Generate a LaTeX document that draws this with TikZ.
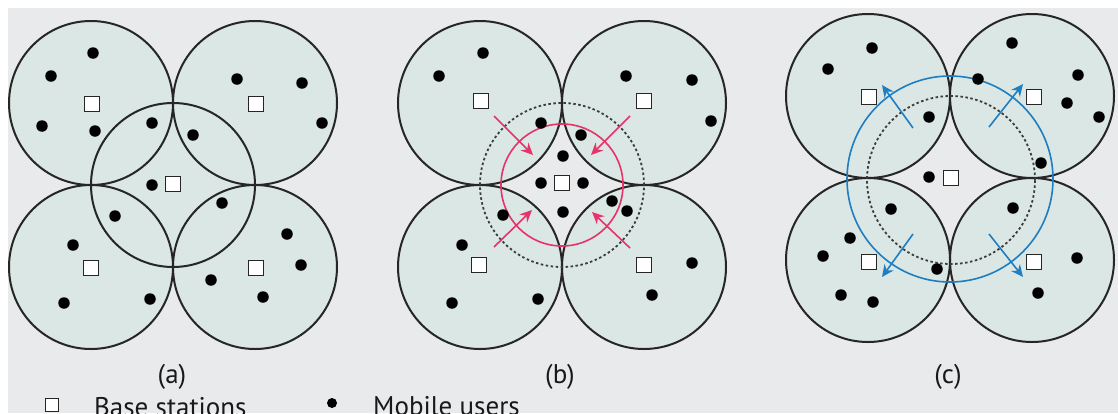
\documentclass[tikz,border=0pt]{standalone}
\usepackage{fontspec}
\setmainfont{PT Sans}
\usetikzlibrary{arrows.meta}
\definecolor{bggray}{HTML}{E8EAEC}
\definecolor{cellfill}{HTML}{DAE7E4}
\definecolor{cellline}{HTML}{262626}
\definecolor{hored}{HTML}{E6336A}
\definecolor{hoblue}{HTML}{1F7EC2}
\tikzset{
  cellring/.style={draw=cellline, line width=2pt},
  user/.style={circle, fill=black, inner sep=0pt, minimum size=11.5pt},
  bs/.style={rectangle, draw=cellline, fill=white, line width=1.6pt, inner sep=0pt, minimum size=15pt},
  dotring/.style={draw=cellline!90, line width=1.8pt, dash pattern=on 2.5pt off 2.5pt},
  redarrow/.style={draw=hored, line width=1.6pt, -{Stealth[length=12pt,width=11pt]}},
  bluearrow/.style={draw=hoblue, line width=1.6pt, -{Stealth[length=12pt,width=11pt]}},
  lbl/.style={font=\fontsize{27}{30}\selectfont, text=black!90, inner sep=0pt},
}
\begin{document}
\begin{tikzpicture}[x=1pt,y=-1pt]
\clip (0,0) rectangle (1118,413);
\fill[white] (0,0) rectangle (1118,413);
\fill[bggray] (8,8) rectangle (1118,413);

% ---------- cell centres ----------
\foreach \n/\x/\y in {a1/91/103,a2/255/103,a3/91/267,a4/255/267,a5/173/185,
                      b1/480/103,b2/644/103,b3/480/267,b4/644/267,bc/562/185,
                      c1/868/96,c2/1032/96,c3/868/260,c4/1032/260,cc/950/178}
  \coordinate (\n) at (\x,\y);

% fills first
\foreach \n in {a1,a2,a3,a4,a5,b1,b2,b3,b4,c1,c2,c3,c4}
  \fill[cellfill] (\n) circle[radius=82pt];
% outlines
\foreach \n in {a1,a2,a3,a4,a5,b1,b2,b3,b4,c1,c2,c3,c4}
  \draw[cellring] (\n) circle[radius=82pt];

% ---------- panel (b) rings ----------
\draw[dotring] (bc) circle[radius=82pt];
\draw[hored, line width=1.6pt] (bc) circle[radius=61pt];

% ---------- panel (c) rings ----------
\coordinate (cring) at (950,179);
\coordinate (cdash) at (951,180);
\draw[dotring] (cdash) circle[radius=84pt];
\draw[hoblue, line width=1.6pt] (cring) circle[radius=103pt];

% ---------- red arrows ----------
\foreach \i/\sx/\sy/\ex/\ey in {1/494/116/533/155, 2/630/116/591/155,
                                3/494/247/532/210, 4/630/248/592/212} {
  \coordinate (rs\i) at (\sx,\sy);
  \coordinate (re\i) at (\ex,\ey);
  \draw[redarrow] (rs\i) -- (re\i);
}
% ---------- blue arrows ----------
\foreach \i/\sx/\sy/\ex/\ey in {1/913/128/882/85, 2/989/127/1023/84,
                                3/913/234/882/277, 4/989/234/1023/277} {
  \coordinate (bs\i) at (\sx,\sy);
  \coordinate (be\i) at (\ex,\ey);
  \draw[bluearrow] (bs\i) -- (be\i);
}

% ---------- base stations ----------
\foreach \x/\y [count=\i] in {92/104,256/104,173/184,91/268,256/268}
  \node[bs] (sa\i) at (\x,\y) {};
\foreach \x/\y [count=\i] in {481/101,644/101,562/183,479/265,644/265}
  \node[bs] (sb\i) at (\x,\y) {};
\foreach \x/\y [count=\i] in {869/97,1034/97,951/178,869/262,1034/262}
  \node[bs] (sc\i) at (\x,\y) {};

% ---------- mobile users ----------
\foreach \x/\y [count=\i] in {93/53,51/76,42/126,95/131,152/123,193/135,237/79,302/83,322/123,
    152/185,115/216,222/203,73/245,287/234,301/265,211/280,263/297,64/303,150/299}
  \node[user] (ua\i) at (\x,\y) {};
\foreach \x/\y [count=\i] in {483/53,439/76,626/76,692/80,711/121,541/123,581/135,563/156,
    541/183,583/183,563/212,503/215,612/201,627/211,462/245,692/263,452/303,538/299,652/295}
  \node[user] (ub\i) at (\x,\y) {};
\foreach \x/\y [count=\i] in {872/48,828/69,1012/43,978/79,1078/75,1067/103,1099/117,929/117,
    1041/163,929/177,891/209,1013/208,850/238,823/256,937/269,1077/258,841/295,873/302,1038/293}
  \node[user] (uc\i) at (\x,\y) {};

% ---------- panel labels ----------
\node[lbl] (la) at (172,377) {(a)};
\node[lbl] (lb) at (560,377) {(b)};
\node[lbl] (lc) at (948,377) {(c)};

% ---------- legend ----------
\node[bs, minimum size=13pt, line width=1.4pt] (legbs) at (52,405) {};
\node[lbl, anchor=base west] (legbstext) at (94,416) {Base stations};
\node[user, minimum size=10pt] (legu) at (332,403) {};
\node[lbl, anchor=base west] (legutext) at (373,415) {Mobile users};
\end{tikzpicture}
\end{document}
